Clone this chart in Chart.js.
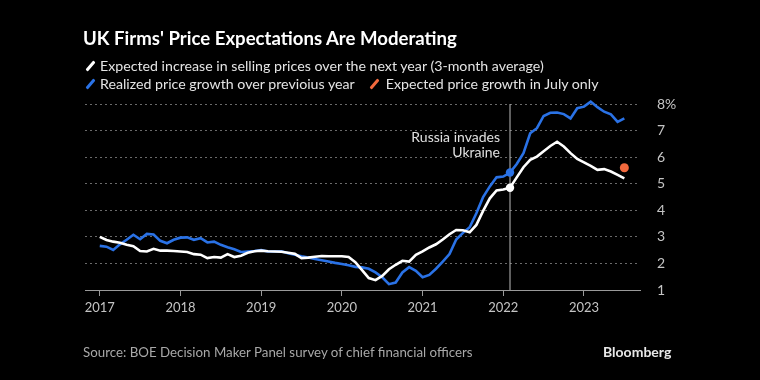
<!DOCTYPE html>
<html>
<head>
<meta charset="utf-8">
<script src="https://cdn.jsdelivr.net/npm/chart.js@4.4.0/dist/chart.umd.min.js"></script>
<style>
  html, body { margin: 0; padding: 0; background: #000; }
  #wrap { position: relative; width: 760px; height: 380px; overflow: hidden;
          font-family: Lato, "Noto Sans", sans-serif; color: #fff; background: #000; }
  #chart { position: absolute; left: 0; top: 0; }
  .title { position: absolute; left: 83px; top: 27px; font-size: 18.6px; font-weight: 700; white-space: nowrap; }
  .leg { position: absolute; left: 84px; font-size: 14.2px; color: #e4e4e4; white-space: nowrap; }
  .sw { display: inline-block; width: 3px; height: 12px; transform: rotate(40deg);
        margin: 0 8px 0 5px; vertical-align: -1px; border-radius: 1px; }
  .source { position: absolute; left: 83px; top: 344px; font-size: 13.3px; color: #a8a8a8; white-space: nowrap; }
  .brand { position: absolute; left: 603px; top: 343px; font-size: 14px; font-weight: 700; color: #e8e8e8; }
</style>
</head>
<body>
<div id="wrap">
  <canvas id="chart" width="760" height="380"></canvas>
  <div class="title">UK Firms' Price Expectations Are Moderating</div>
  <div class="leg" style="top:57px"><span class="sw" style="background:#fff"></span>Expected increase in selling prices over the next year (3-month average)</div>
  <div class="leg" style="top:75px"><span class="sw" style="background:#2a72e6"></span>Realized price growth over previoius year<span class="sw" style="background:#f2693d;margin-left:18px;margin-right:10px"></span>Expected price growth in July only</div>
  <div class="source">Source: BOE Decision Maker Panel survey of chief financial officers</div>
  <div class="brand">Bloomberg</div>
</div>
<script>
// monthly, Jan 2017 .. Jul 2023
const startYear = 2017;
const expected = [
  3.0, 2.88, 2.82, 2.78, 2.7, 2.65, 2.47, 2.45, 2.55, 2.48, 2.48, 2.47,
  2.45, 2.43, 2.35, 2.33, 2.2, 2.24, 2.22, 2.35, 2.24, 2.29, 2.4, 2.46,
  2.48, 2.46, 2.45, 2.44, 2.4, 2.36, 2.2, 2.22, 2.25, 2.28, 2.27, 2.27,
  2.27, 2.24, 2.05, 1.75, 1.45, 1.37, 1.53, 1.78, 1.95, 2.1, 2.07, 2.32,
  2.45, 2.6, 2.72, 2.9, 3.1, 3.26, 3.25, 3.17, 3.45, 3.98, 4.45, 4.75,
  4.78, 4.85, 5.24, 5.62, 5.9, 6.02, 6.22, 6.42, 6.58, 6.4, 6.15, 5.93,
  5.8, 5.67, 5.52, 5.55, 5.46, 5.33, 5.2
];
const realized = [
  2.66, 2.63, 2.51, 2.72, 2.89, 3.08, 2.91, 3.11, 3.09, 2.85, 2.76, 2.89,
  2.97, 2.98, 2.89, 2.95, 2.79, 2.82, 2.7, 2.61, 2.53, 2.43, 2.45, 2.47,
  2.5, 2.45, 2.45, 2.46, 2.38, 2.33, 2.27, 2.22, 2.17, 2.12, 2.07, 2.02,
  1.98, 1.93, 1.87, 1.85, 1.8, 1.66, 1.48, 1.22, 1.28, 1.66, 1.86, 1.72,
  1.48, 1.57, 1.8, 2.07, 2.35, 2.9, 3.15, 3.36, 3.89, 4.5, 4.9, 5.24,
  5.27, 5.42, 5.74, 6.15, 6.9, 7.09, 7.55, 7.67, 7.68, 7.62, 7.46, 7.84,
  7.9, 8.09, 7.88, 7.71, 7.61, 7.33, 7.46
];
const julyOnly = 5.6;
const invasionIndex = 61; // Feb 2022
const yearTicks = [2017, 2018, 2019, 2020, 2021, 2022, 2023];
const yTicks = [1, 2, 3, 4, 5, 6, 7, 8];

const monthX = i => startYear + i / 12;
const toPoints = arr => arr.map((v, i) => ({ x: monthX(i), y: v }));
const invasionX = monthX(invasionIndex);

const annotationText = {
  id: 'annotationText',
  afterDatasetsDraw(chart) {
    const { ctx, scales: { x, y } } = chart;
    const px = x.getPixelForValue(invasionX) - 10;
    ctx.save();
    ctx.font = '14px Lato, "Noto Sans", sans-serif';
    ctx.fillStyle = '#e0e0e0';
    ctx.textAlign = 'right';
    ctx.textBaseline = 'middle';
    ctx.fillText('Russia invades', px, y.getPixelForValue(6.75));
    ctx.fillText('Ukraine', px, y.getPixelForValue(6.17));
    ctx.restore();
  }
};

new Chart(document.getElementById('chart').getContext('2d'), {
  type: 'line',
  data: {
    datasets: [
      {
        data: [{ x: invasionX, y: 1 }, { x: invasionX, y: 8 }],
        borderColor: '#bdbdbd', borderWidth: 1, pointRadius: 0, order: 9,
      },
      {
        data: toPoints(realized),
        borderColor: '#2a72e6', borderWidth: 2.6, pointRadius: 0, order: 3, clip: false,
      },
      {
        data: toPoints(expected),
        borderColor: '#ffffff', borderWidth: 2.6, pointRadius: 0, order: 2, clip: false,
      },
      {
        data: [{ x: invasionX, y: realized[invasionIndex] }],
        pointRadius: 4.2, pointBackgroundColor: '#2a72e6', pointBorderWidth: 0, showLine: false, order: 1,
      },
      {
        data: [{ x: invasionX, y: expected[invasionIndex] }],
        pointRadius: 4.2, pointBackgroundColor: '#ffffff', pointBorderWidth: 0, showLine: false, order: 1,
      },
      {
        data: [{ x: monthX(expected.length - 1), y: julyOnly }],
        pointRadius: 4.5, pointBackgroundColor: '#f2693d', pointBorderWidth: 0, showLine: false, order: 1,
      },
    ],
  },
  options: {
    responsive: false,
    animation: false,
    layout: { padding: { left: 85, right: 70, top: 104, bottom: 60 } },
    plugins: { legend: { display: false }, tooltip: { enabled: false } },
    scales: {
      x: {
        type: 'linear',
        min: 2016.817,
        max: 2023.694,
        afterFit: s => { s.height = 30; },
        afterBuildTicks: s => { s.ticks = yearTicks.map(v => ({ value: v })); },
        grid: { drawOnChartArea: false, drawTicks: true, tickLength: 6, color: '#9a9a9a' },
        border: { display: true, color: '#9a9a9a', width: 1 },
        ticks: {
          autoSkip: false, maxRotation: 0, padding: 4, color: '#c4c4c4',
          font: { family: 'Lato, "Noto Sans", sans-serif', size: 13 },
          callback: v => String(v),
        },
      },
      y: {
        position: 'right',
        min: 1,
        max: 8,
        afterFit: s => { s.width = 50; },
        afterBuildTicks: s => { s.ticks = yTicks.map(v => ({ value: v })); },
        grid: {
          drawTicks: false,
          color: c => (c.tick && c.tick.value === 1 ? 'rgba(0,0,0,0)' : '#6a6a6a'),
          lineWidth: 1,
        },
        border: { display: false, dash: [2, 3] },
        ticks: {
          padding: 17, color: '#c4c4c4',
          font: { family: 'Lato, "Noto Sans", sans-serif', size: 14 },
          callback: v => (v === 8 ? '8%' : String(v)),
        },
      },
    },
  },
  plugins: [annotationText],
});
</script>
</body>
</html>
